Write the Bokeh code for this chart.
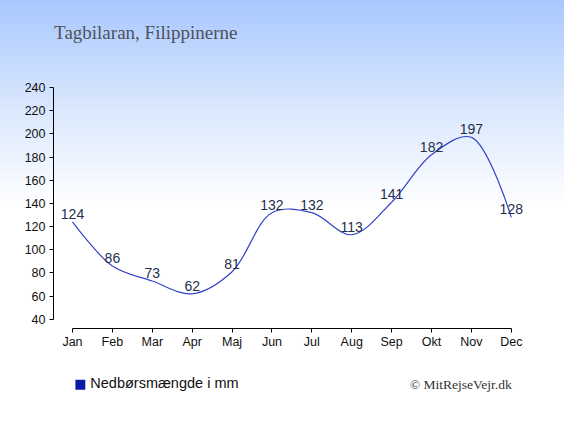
from math import hypot, sqrt
from bokeh.plotting import figure
from bokeh.models import Range1d, FixedTicker, Label, Legend, LegendItem, BoxAnnotation
from bokeh.core.properties import value
from bokeh.embed import file_html
from bokeh.resources import INLINE

# ---- data ----
months = ["Jan", "Feb", "Mar", "Apr", "Maj", "Jun", "Jul", "Aug", "Sep", "Okt", "Nov", "Dec"]
rain = [124, 86, 73, 62, 81, 132, 132, 113, 141, 182, 197, 128]
y_ticks = [40, 60, 80, 100, 120, 140, 160, 180, 200, 220, 240]
title_text = "Tagbilaran, Filippinerne"
legend_text = "Nedbørsmængde i mm"
credit_text = "© MitRejseVejr.dk"

idx = list(range(len(months)))
n = len(idx)

# ---- layout geometry (figure pixels) ----
W, H = 564, 419
FL, FT = 53, 0                 # frame left (= y axis line) / top
FW, FH = W - FL, H - 24        # frame size
jan_px, dec_px = 72.0, 510.8   # x pixel of first / last month
y40_px, y240_px = 318.8, 87.0  # y pixel of 40 / 240
px_month = (dec_px - jan_px) / (n - 1)
px_unit = (y40_px - y240_px) / (y_ticks[-1] - y_ticks[0])
x_start = -(jan_px - FL) / px_month
y_start = y_ticks[0] - (FT + FH - y40_px) / px_unit


def X(px):
    return x_start + (px - FL) / px_month


def Y(py):
    return y_start + (FT + FH - py) / px_unit


# smooth curve: centripetal Catmull-Rom (in pixel space) as cubic Bezier segments
P = [(i * px_month, v * px_unit) for i, v in zip(idx, rain)]


def ctrl(pa, pb, pc, da2, db2):
    # control point next to pb, for the segment pb -> pc, with previous point pa
    if da2 == 0:
        return pb
    da, db = sqrt(da2), sqrt(db2)
    k = 2 * da2 + 3 * da * db + db2
    den = 3 * da * (da + db)
    return ((da2 * pc[0] - db2 * pa[0] + k * pb[0]) / den,
            (da2 * pc[1] - db2 * pa[1] + k * pb[1]) / den)


x0, y0, x1, y1, cx0, cy0, cx1, cy1 = [], [], [], [], [], [], [], []
for i in range(n - 1):
    p0 = P[max(i - 1, 0)]
    p1, p2 = P[i], P[i + 1]
    p3 = P[min(i + 2, n - 1)]
    d01 = hypot(p1[0] - p0[0], p1[1] - p0[1])
    d12 = hypot(p2[0] - p1[0], p2[1] - p1[1])
    d23 = hypot(p3[0] - p2[0], p3[1] - p2[1])
    b1 = ctrl(p0, p1, p2, d01, d12)
    b2 = ctrl(p3, p2, p1, d23, d12)
    x0.append(idx[i]); y0.append(rain[i])
    x1.append(idx[i + 1]); y1.append(rain[i + 1])
    cx0.append(b1[0] / px_month); cy0.append(b1[1] / px_unit)
    cx1.append(b2[0] / px_month); cy1.append(b2[1] / px_unit)

p = figure(
    frame_width=FW, frame_height=FH,
    x_range=Range1d(x_start, x_start + FW / px_month),
    y_range=Range1d(y_start, y_start + FH / px_unit),
    output_backend="svg", toolbar_location=None,
    min_border_left=FL, min_border_right=0, min_border_top=FT, min_border_bottom=H - FH - FT,
)
p.background_fill_alpha = 0
p.border_fill_alpha = 0
p.outline_line_color = None
p.xgrid.visible = False
p.ygrid.visible = False
p.styles = {"background": "linear-gradient(to bottom, #a8c8fe 0px, #d6e5fd 100px, #ffffff 205px, #ffffff 100%)"}

p.bezier(x0=x0, y0=y0, x1=x1, y1=y1, cx0=cx0, cy0=cy0, cx1=cx1, cy1=cy1,
         line_color="#3542c8", line_width=1.2)

label_gap = 8 / px_unit
p.text(x=idx, y=[v + label_gap for v in rain], text=[str(v) for v in rain],
       text_font=value("Liberation Sans"), text_font_size="14px",
       text_color="#1f2f4f", text_align="center", text_baseline="alphabetic")

for ax in (p.xaxis[0], p.yaxis[0]):
    ax.axis_line_color = "#000000"
    ax.major_tick_line_color = "#000000"
    ax.minor_tick_line_color = None
    ax.major_tick_out = 4
    ax.major_tick_in = 0
    ax.major_label_text_font = "Liberation Sans"
    ax.major_label_text_font_size = "12.5px"
    ax.major_label_text_color = "#111111"

p.xaxis.ticker = FixedTicker(ticks=idx)
p.xaxis.major_label_overrides = {i: m for i, m in zip(idx, months)}
p.xaxis.bounds = (idx[0], idx[-1])
p.xaxis.major_label_standoff = 3
p.xaxis.fixed_location = Y(327.5)
p.yaxis.ticker = FixedTicker(ticks=y_ticks)
p.yaxis.bounds = (y_ticks[0], y_ticks[-1])
p.yaxis.major_label_standoff = 4

# legend: filled square + label
sq = p.quad(left=[], right=[], top=[], bottom=[], fill_color="#0a1aa8", line_color=None)
p.add_layout(BoxAnnotation(left=X(74.9), right=X(84.8), top=Y(379.3), bottom=Y(389.2),
                           fill_color="#0a1aa8", fill_alpha=1.0, line_color=None))
legend = Legend(items=[LegendItem(label=legend_text, renderers=[sq])],
                location=(73.3 - FL, FT + FH - 391.0), orientation="vertical",
                padding=0, margin=0, spacing=0, border_line_color=None,
                background_fill_alpha=0, glyph_width=13, glyph_height=13,
                label_height=13, label_standoff=4,
                label_text_font="Liberation Sans", label_text_font_size="14.5px",
                label_text_color="#111111")
p.add_layout(legend)

p.add_layout(Label(x=X(53.6), y=Y(31.5), text=title_text,
                   text_font="Liberation Serif", text_font_size="19px", text_color="#50505c",
                   text_align="left", text_baseline="alphabetic"))
p.add_layout(Label(x=X(511.2), y=Y(384.0), text=credit_text,
                   text_font="Liberation Serif", text_font_size="13.5px", text_color="#333333",
                   text_align="right", text_baseline="alphabetic"))

open("out.html", "w").write(file_html(p, INLINE))
